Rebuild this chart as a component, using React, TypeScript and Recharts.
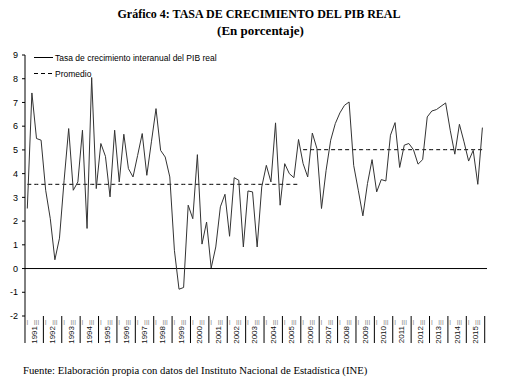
import React from 'react';
import { LineChart, Line, XAxis, YAxis, ReferenceLine } from 'recharts';

const years = ['1991','1992','1993','1994','1995','1996','1997','1998','1999','2000','2001','2002','2003','2004','2005','2006','2007','2008','2009','2010','2011','2012','2013','2014','2015'];
const quarterLabels = ['I', '', 'III', ''];

const growth = [
  2.53, 7.40, 5.48, 5.41, 3.30, 2.10, 0.37, 1.28,
  3.70, 5.90, 3.30, 3.65, 5.83, 1.69, 8.05, 3.37,
  5.27, 4.73, 3.02, 5.83, 3.65, 5.66, 4.21, 3.86,
  4.77, 5.69, 3.93, 5.34, 6.74, 4.98, 4.70, 3.86,
  0.77, -0.87, -0.80, 2.67, 2.10, 4.80, 1.03, 1.96,
  0.02, 0.91, 2.60, 3.13, 1.36, 3.83, 3.72, 0.91,
  3.27, 3.23, 0.91, 3.44, 4.35, 3.65, 6.14, 2.67,
  4.42, 4.00, 3.83, 5.44, 4.42, 3.86, 5.71, 5.06,
  2.53, 4.14, 5.41, 6.11, 6.56, 6.88, 7.02, 4.35,
  3.30, 2.22, 3.58, 4.59, 3.23, 3.75, 3.69, 5.62,
  6.15, 4.26, 5.20, 5.27, 5.01, 4.40, 4.59, 6.39,
  6.64, 6.70, 6.84, 6.98, 5.83, 4.82, 6.08, 5.34,
  4.53, 4.98, 3.55, 5.94,
];

const avgFirst = 3.55;   // 1991-2005
const avgSecond = 5.01;  // 2006-2015
const firstPeriodEnd = 59;

const yTicks = [-2, -1, 0, 1, 2, 3, 4, 5, 6, 7, 8, 9];

const data = growth.map((v, i) => ({
  i,
  v,
  a1: i <= firstPeriodEnd ? avgFirst : null,
  a2: i > firstPeriodEnd ? avgSecond : null,
}));
const xTicks = data.map((d) => d.i);

const W = 511;
const H = 385;
const PLOT_LEFT = 25;
const PLOT_RIGHT = 487;
const PLOT_TOP = 55;
const PLOT_BOTTOM = 316;
const STEP = (PLOT_RIGHT - PLOT_LEFT) / growth.length;
const SANS = "'Liberation Sans', Arial, sans-serif";
const SERIF = "'Liberation Serif', 'Times New Roman', serif";

const QuarterTick = (props: any) => {
  const { x, payload } = props;
  const y = PLOT_BOTTOM;
  const i = payload.value as number;
  const q = i % 4;
  const els: React.ReactNode[] = [];
  if (q === 0) {
    const left = x - STEP / 2;
    els.push(<line key="s" x1={left} x2={left} y1={y} y2={y + 27} stroke="#000" strokeWidth={1} />);
    const cx = x + STEP * 1.5;
    const ty = y + 10;
    els.push(
      <text key="y" x={cx} y={ty} transform={`rotate(-90 ${cx} ${ty})`} textAnchor="end" dominantBaseline="central"
        fontSize={8} fontFamily={SANS} fill="#111">
        {years[Math.floor(i / 4)]}
      </text>
    );
  }
  if (i === growth.length - 1) {
    const right = x + STEP / 2;
    els.push(<line key="e" x1={right} x2={right} y1={y} y2={y + 27} stroke="#000" strokeWidth={1} />);
  }
  if (quarterLabels[q]) {
    els.push(
      <text key="q" x={x} y={y + 9} textAnchor="middle" fontSize={6.5} fontFamily={SANS} fill="#888">
        {quarterLabels[q]}
      </text>
    );
  }
  return <g>{els}</g>;
};

export default function App() {
  return (
    <div style={{ position: 'fixed', left: 0, top: 0, width: W, height: H, background: '#fff', overflow: 'hidden' }}>
      <div style={{ position: 'absolute', left: 0, top: 7, width: W, textAlign: 'center', fontFamily: SERIF, fontWeight: 'bold', color: '#000' }}>
        <div style={{ paddingLeft: 7, fontSize: 12, lineHeight: '15px' }}>Gráfico 4: TASA DE CRECIMIENTO DEL PIB REAL</div>
        <div style={{ paddingLeft: 10, fontSize: 13, lineHeight: '15px', marginTop: 1 }}>(En porcentaje)</div>
      </div>
      <LineChart width={W} height={H} data={data} margin={{ top: PLOT_TOP, right: W - PLOT_RIGHT, bottom: H - PLOT_BOTTOM - 30, left: 0 }}>
        <XAxis
          dataKey="i"
          type="number"
          domain={[-0.5, growth.length - 0.5]}
          ticks={xTicks}
          interval={0}
          axisLine={false}
          tickLine={false}
          tickSize={0}
          tickMargin={0}
          height={30}
          tick={<QuarterTick />}
          allowDecimals={false}
        />
        <YAxis
          width={PLOT_LEFT}
          domain={[-2, 9]}
          ticks={yTicks}
          interval={0}
          tickSize={3}
          tickMargin={4}
          axisLine={{ stroke: '#000' }}
          tickLine={{ stroke: '#000' }}
          tick={{ fontSize: 9, fontFamily: SANS, fill: '#000' }}
        />
        <ReferenceLine y={0} stroke="#000" strokeWidth={1} />
        <Line dataKey="a1" stroke="#000" strokeWidth={1} strokeDasharray="4 3" dot={false} isAnimationActive={false} connectNulls={false} />
        <Line dataKey="a2" stroke="#000" strokeWidth={1} strokeDasharray="4 3" dot={false} isAnimationActive={false} connectNulls={false} />
        <Line dataKey="v" type="linear" stroke="#333" strokeWidth={1} dot={false} isAnimationActive={false} />
      </LineChart>
      <svg style={{ position: 'absolute', left: 0, top: 0 }} width={W} height={H} pointerEvents="none">
        <line x1={34} x2={53} y1={57.5} y2={57.5} stroke="#000" strokeWidth={1} />
        <text x={55} y={57.5} dominantBaseline="central" fontSize={8.5} fontFamily={SANS} fill="#000">
          Tasa de crecimiento interanual del PIB real
        </text>
        <line x1={34} x2={53} y1={73.5} y2={73.5} stroke="#000" strokeWidth={1} strokeDasharray="4 3" />
        <text x={55} y={73.5} dominantBaseline="central" fontSize={8.5} fontFamily={SANS} fill="#000">
          Promedio
        </text>
        <text x={23} y={374} fontSize={10.7} fontFamily={SERIF} fill="#000">
          Fuente: Elaboración propia con datos del Instituto Nacional de Estadística (INE)
        </text>
      </svg>
    </div>
  );
}
